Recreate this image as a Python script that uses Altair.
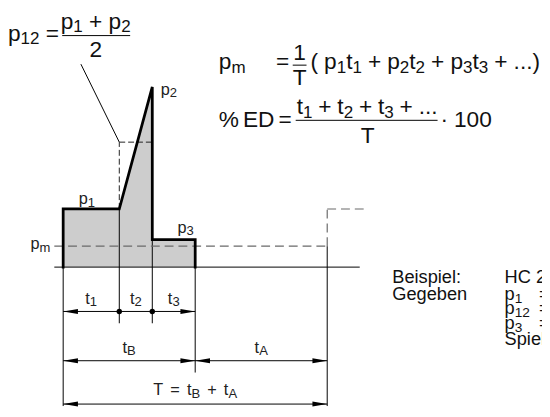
import altair as alt
import pandas as pd

# ---------------- data (diagram units) ----------------
durations = [1.7, 1.0, 1.3]          # t1, t2, t3
pause_tA = 4.0                       # tA
p1, p2, p3 = 2.0, 6.2, 0.95          # pressure levels
p12 = 4.3                            # mean of the ramp
pm = 0.72                            # mean pressure

t1 = durations[0]
t12 = t1 + durations[1]
tB = t12 + durations[2]
T = tB + pause_tA

# ---------------- layout ----------------
W, H = 542, 401
PAGE = 8
X0, Y0 = 64, 268      # page pixel of t=0 / p=0
UX, UY = 33.5, 29.5   # pixels per unit


def tx(px):
    return (px - X0) / UX


def py(px):
    return (Y0 - px) / UY


def pxt(t):
    return X0 + t * UX


xs = alt.Scale(domain=[tx(PAGE), tx(PAGE + W)], nice=False, zero=False)
ys = alt.Scale(domain=[py(PAGE + H), py(PAGE)], nice=False, zero=False)
X = alt.X("x:Q", scale=xs, axis=None)
Y = alt.Y("y:Q", scale=ys, axis=None)

row1, row2, row3 = py(313), py(363), py(407)
bottom = py(PAGE + H)

# ---------------- text layout helpers ----------------
WID = {' ': .278, '(': .333, ')': .333, '+': .584, '=': .584, '.': .278, '·': .278,
       '%': .889, '0': .556, '1': .556, '2': .556, '3': .556, 'p': .556, 't': .278,
       'm': .833, 'T': .611, 'A': .667, 'B': .667, 'E': .667, 'D': .722, 'H': .722,
       'C': .722, 'e': .556, 'i': .222, 's': .5, 'l': .222, ':': .278, 'G': .778,
       'g': .556, 'b': .556, 'n': .556, 'S': .667}


def parse(spec):
    out, buf, i = [], '', 0
    while i < len(spec):
        if spec[i] == '_' and spec[i + 1] == '{':
            if buf:
                out.append((buf, False))
                buf = ''
            j = spec.index('}', i)
            out.append((spec[i + 2:j], True))
            i = j + 1
        else:
            buf += spec[i]
            i += 1
    if buf:
        out.append((buf, False))
    return out


def layout(spec, x, base, size, align='left', sub=0.75, drop=0.16, target=None):
    runs = parse(spec)

    def glyphs(txt, fs):
        return sum(WID.get(c, .556) for c in txt if c != ' ') * fs

    sp = WID[' ']
    nsp = sum(t.count(' ') * size * (sub if s else 1) for t, s in runs)
    fixed = sum(glyphs(t, size * (sub if s else 1)) for t, s in runs)
    if target is not None and nsp:
        sp = (target - fixed) / nsp
    total = fixed + sp * nsp
    if align == 'center':
        x -= total / 2
    elif align == 'right':
        x -= total
    rows = []
    for t, s in runs:
        fs = size * (sub if s else 1)
        yb = py(base + (drop * size if s else 0))
        word = ''
        for c in t + '\0':
            if c in (' ', '\0'):
                if word:
                    rows.append(dict(x=tx(x), y=yb, text=word, size=fs))
                    x += glyphs(word, fs)
                    word = ''
                if c == ' ':
                    x += sp * fs
            else:
                word += c
    return rows


# formulas
F = 23
ftxt = []
ftxt += layout("p_{12} = ", 8, 38, F)
ftxt += layout("p_{1} + p_{2}", 97, 26, F, align='center')
ftxt += layout("2", 97, 55, F, align='center')
ftxt += layout("p_{m}", 222, 67, F)
ftxt += layout("=", 280, 67, F)
ftxt += layout("1", 304, 58, F, align='center')
ftxt += layout("T", 304, 83, F, align='center')
ftxt += layout("( p_{1}t_{1} + p_{2}t_{2} + p_{3}t_{3} + ...)", 315, 67, F, target=233)
ftxt += layout("% ED =", 222, 126, F, target=74)
ftxt += layout("t_{1} + t_{2} + t_{3} + ...", 301, 113, F, target=143)
ftxt += layout("T", 373, 142, F, align='center')
ftxt += layout("· 100", 447, 126, F, target=52)

# example block
E = 18.5
CX = 512
ftxt += layout("Beispiel:", 398, 284, E)
ftxt += layout("Gegeben", 398, 301, E)
ftxt += layout("HC 2", CX, 284, E)
ftxt += layout("p_{1}", CX, 301, E)
ftxt += layout("p_{12}", CX, 316, E)
ftxt += layout("p_{3}", CX, 331, E)
ftxt += layout("Spiel", CX, 347, E)
for b in (301, 316, 331):
    ftxt += layout("=", 547, b, E)

# diagram labels
L = 16.5
kw = dict(sub=0.8, drop=0.15)
dtxt = []
dtxt += layout("p_{1}", 88, 204, L, align='center', **kw)
dtxt += layout("p_{2}", 163, 93, L, **kw)
dtxt += layout("p_{3}", 180, 233, L, **kw)
dtxt += layout("p_{m}", 51, 250, L, align='right', **kw)
dtxt += layout("t_{1}", pxt(t1 / 2), 305, L, align='center', **kw)
dtxt += layout("t_{2}", pxt((t1 + t12) / 2), 305, L, align='center', **kw)
dtxt += layout("t_{3}", pxt((t12 + tB) / 2), 305, L, align='center', **kw)
dtxt += layout("t_{B}", pxt(tB / 2), 355, L, align='center', **kw)
dtxt += layout("t_{A}", pxt((tB + T) / 2), 355, L, align='center', **kw)
dtxt += layout("T = t_{B} + t_{A}", pxt(T / 2), 398, L, align='center', target=85, **kw)

# ---------------- geometry tables ----------------
fill1 = pd.DataFrame({"x": [0, t1, t12], "y": [p1, p1, p2], "y2": [0, 0, 0]})
fill2 = pd.DataFrame({"x": [t12, tB], "y": [p3, p3], "y2": [0, 0]})

outline = pd.DataFrame({
    "x": [0, 0, t1, t12, t12, tB, tB],
    "y": [0, p1, p1, p2, p3, p3, 0],
    "i": list(range(7)),
})

thin = pd.DataFrame([
    dict(x=tx(55), x2=tx(365), y=0, y2=0),            # time axis
    dict(x=0, x2=0, y=0, y2=bottom),                  # extension lines
    dict(x=t1, x2=t1, y=p1, y2=py(325)),
    dict(x=t12, x2=t12, y=p3, y2=py(325)),
    dict(x=tB, x2=tB, y=0, y2=py(375)),
    dict(x=T, x2=T, y=pm, y2=bottom),
    dict(x=tx(82), x2=t1, y=py(62), y2=p12),          # leader line
    dict(x=0, x2=tB, y=row1, y2=row1),                # dimension lines
    dict(x=0, x2=T, y=row2, y2=row2),
    dict(x=0, x2=T, y=row3, y2=row3),
    dict(x=tx(63), x2=tx(132), y=py(33), y2=py(33)),   # fraction bars
    dict(x=tx(297), x2=tx(311), y=py(63), y2=py(63)),
    dict(x=tx(300), x2=tx(444), y=py(119), y2=py(119)),
])

dash_black = pd.DataFrame([
    dict(x=t1, x2=t1, y=p1, y2=p12),
    dict(x=t1, x2=t12, y=p12, y2=p12),
])
dash_grey = pd.DataFrame([
    dict(x=tx(55), x2=T, y=pm, y2=pm),
    dict(x=T, x2=T, y=pm, y2=p1),
    dict(x=T, x2=tx(372), y=p1, y2=p1),
])

arrows_left = pd.DataFrame({"x": [0, 0, tB, 0], "y": [row1, row2, row2, row3]})
arrows_right = pd.DataFrame({"x": [tB, tB, T, T], "y": [row1, row2, row2, row3]})
dots = pd.DataFrame({"x": [t1, t12], "y": [row1, row1]})

# ---------------- marks ----------------
FILL = "#cdcdcd"
area1 = alt.Chart(fill1).mark_area(color=FILL, opacity=1).encode(x=X, y=Y, y2="y2:Q")
area2 = alt.Chart(fill2).mark_area(color=FILL, opacity=1).encode(x=X, y=Y, y2="y2:Q")

thin_l = alt.Chart(thin).mark_rule(color="black", strokeWidth=1).encode(
    x=X, x2="x2:Q", y=Y, y2="y2:Q")
dash_b = alt.Chart(dash_black).mark_rule(color="#222", strokeWidth=1, strokeDash=[6, 3]).encode(
    x=X, x2="x2:Q", y=Y, y2="y2:Q")
dash_g = alt.Chart(dash_grey).mark_rule(color="#6a6a6a", strokeWidth=1.2, strokeDash=[9, 5]).encode(
    x=X, x2="x2:Q", y=Y, y2="y2:Q")

thick = alt.Chart(outline).mark_line(color="black", strokeWidth=2.8, strokeJoin="miter",
                                     strokeCap="square").encode(
    x=X, y=Y, order="i:Q")

ARROW_L = "M0,0L2,-0.34L2,0.34Z"
ARROW_R = "M0,0L-2,-0.34L-2,0.34Z"
arr_l = alt.Chart(arrows_left).mark_point(shape=ARROW_L, filled=True, size=225, color="black",
                                          opacity=1, strokeWidth=0).encode(x=X, y=Y)
arr_r = alt.Chart(arrows_right).mark_point(shape=ARROW_R, filled=True, size=225, color="black",
                                           opacity=1, strokeWidth=0).encode(x=X, y=Y)
dot_m = alt.Chart(dots).mark_circle(size=30, color="black", opacity=1).encode(x=X, y=Y)

FONT = "Liberation Sans, Arial, Helvetica, sans-serif"
text_f = alt.Chart(pd.DataFrame(ftxt)).mark_text(
    align="left", baseline="alphabetic", font=FONT, color="#111").encode(
    x=X, y=Y, text="text:N", size=alt.Size("size:Q", scale=None))
text_d = alt.Chart(pd.DataFrame(dtxt)).mark_text(
    align="left", baseline="alphabetic", font=FONT, color="#222").encode(
    x=X, y=Y, text="text:N", size=alt.Size("size:Q", scale=None))

chart = alt.layer(
    area1, area2, thin_l, dash_g, dash_b, thick, arr_l, arr_r, dot_m, text_f, text_d
).properties(
    width=W, height=H, padding=0, background="white",
    autosize=alt.AutoSizeParams(type="none"),
).configure_view(stroke=None)

chart.save("out.html", embed_options={"renderer": "svg", "actions": False})
